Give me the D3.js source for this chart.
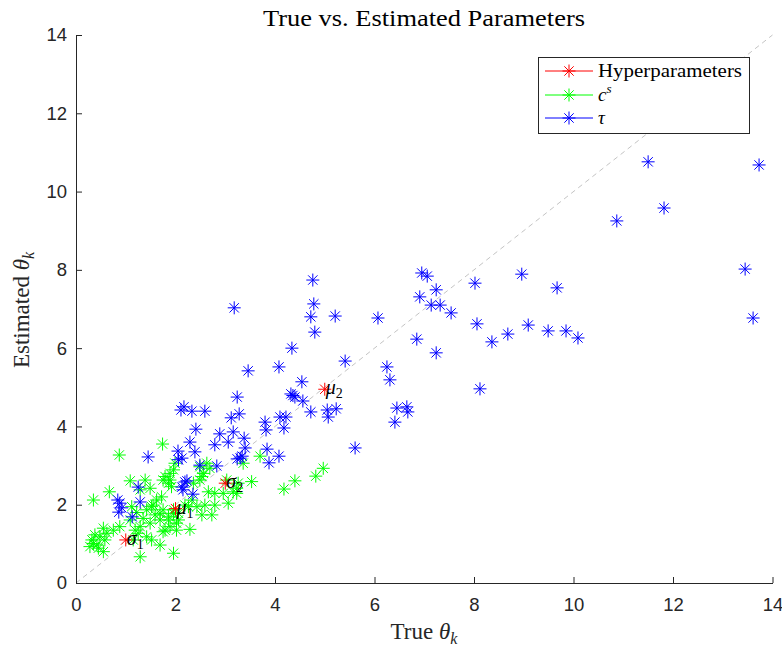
<!DOCTYPE html>
<html><head><meta charset="utf-8">
<script src="https://cdn.jsdelivr.net/npm/d3@7"></script>
<style>body{margin:0;background:#fff}svg{display:block}</style>
</head><body>
<svg id="chart" width="782" height="647"></svg>
<script>
// ---------- data ----------
const tauX = [13.73,11.50,11.82,10.87,13.45,13.61,8.96,9.67,9.09,9.49,9.85,10.09,8.02,8.06,8.68,8.36,8.12,6.95,7.06,7.24,
  6.91,7.14,7.32,7.54,6.85,7.24,6.07,6.25,6.31,6.45,6.65,6.67,6.41,5.61,5.41,5.21,4.76,4.78,4.72,4.80,
  4.34,4.54,3.18,4.08,3.46,4.32,4.40,4.56,4.72,5.05,5.23,5.07,4.10,4.22,3.82,4.18,3.80,3.24,3.12,3.28,
  2.59,2.33,2.17,2.11,2.41,2.29,2.39,2.89,3.16,3.38,3.06,2.79,3.40,3.84,4.08,3.88,3.30,3.24,3.34,2.83,
  2.49,2.13,2.05,2.06,1.45,2.23,2.13,2.15,2.35,1.25,1.29,0.84,0.88,0.92,0.86,1.13,4.36,2.19];
const tauY = [10.68,10.76,9.58,9.25,8.02,6.77,7.89,7.54,6.59,6.44,6.44,6.26,7.66,6.62,6.36,6.16,4.96,7.92,7.84,7.49,
  7.31,7.10,7.10,6.90,6.23,5.88,6.77,5.52,5.19,4.47,4.50,4.37,4.11,3.45,5.67,6.82,7.74,7.13,6.80,6.41,
  6.00,5.14,7.03,5.52,5.42,4.83,4.75,4.65,4.37,4.42,4.45,4.24,4.24,4.24,3.91,3.96,4.11,4.75,4.22,4.32,
  4.39,4.39,4.50,4.42,3.93,3.60,3.35,3.81,3.86,3.70,3.60,3.53,3.45,3.42,3.24,3.07,3.19,3.17,3.24,2.99,
  3.01,3.19,3.37,3.15,3.22,2.61,2.45,2.38,2.27,2.45,2.07,2.12,2.04,1.92,1.81,1.69,4.79,2.58];

const csX = [1.74,0.87,1.09,1.39,0.67,0.35,1.79,1.89,1.99,1.49,1.62,1.72,1.52,1.42,1.59,1.35,1.49,1.69,1.75,1.86,
  1.96,1.89,2.02,1.79,2.02,1.29,1.25,1.42,1.52,0.88,0.75,0.55,0.48,0.58,0.38,0.32,0.42,0.55,0.35,0.28,
  0.45,1.15,1.19,1.69,1.96,1.29,1.55,1.96,1.89,1.75,1.86,1.92,2.63,2.69,2.56,2.53,2.36,2.66,2.79,2.96,
  3.23,3.53,3.26,3.23,2.33,2.19,2.43,2.59,2.79,3.06,2.53,2.73,1.86,1.75,2.06,2.29,3.70,3.36,4.97,4.82,
  4.40,4.18,3.16,2.49,2.49,3.03,1.69,1.12,1.22,1.09,1.29,0.62,1.96,2.06,2.26];
const csY = [3.55,3.27,2.61,2.63,2.33,2.12,2.72,2.63,3.06,2.42,2.12,2.20,1.95,1.87,1.74,1.65,1.53,1.61,1.87,1.69,
  1.78,1.44,1.53,1.35,1.35,1.44,1.27,1.18,1.10,1.44,1.35,1.40,1.18,1.10,1.23,1.10,0.97,0.80,1.01,0.93,
  0.89,1.10,1.35,0.97,0.76,0.67,1.99,2.89,2.80,2.63,2.55,2.46,3.06,2.93,2.80,2.72,2.55,2.33,2.29,2.29,
  2.29,2.59,2.55,2.42,2.12,1.99,1.95,1.99,1.99,2.04,1.74,1.74,1.61,1.31,1.61,1.37,3.24,3.06,2.93,2.73,
  2.61,2.40,2.33,2.97,2.63,2.63,1.78,1.95,1.80,1.61,2.38,1.27,1.87,1.78,1.95];

const hypX = [1.0, 2.0, 3.0, 5.0];
const hypY = [1.1, 1.9, 2.55, 4.95];
const hypSym = ["σ", "μ", "σ", "μ"];
const hypSub = ["1", "1", "2", "2"];

const xTicks = [0, 2, 4, 6, 8, 10, 12, 14];
const yTicks = [0, 2, 4, 6, 8, 10, 12, 14];
const legendNames = ["Hyperparameters", "c", "τ"];
const seriesColors = ["#ff0000", "#00ff00", "#0000ff"];

// ---------- drawing ----------
const svg = d3.select("#chart");
svg.append("rect").attr("width", 782).attr("height", 647).attr("fill", "#fff");

const x = d3.scaleLinear().domain([0, 14]).range([76, 772.5]);
const y = d3.scaleLinear().domain([0, 14]).range([583, 35]);
const AX = "#262626";
const SERIF = "'Liberation Serif','Times New Roman',serif";
const SANS = "'Liberation Sans',Arial,Helvetica,sans-serif";

function starPath(r) {
  const d = r * 0.72;
  return `M${-r},0L${r},0M0,${-r}L0,${r}M${-d},${-d}L${d},${d}M${-d},${d}L${d},${-d}`;
}
const STAR = starPath(6.5);

// diagonal reference line
svg.append("line")
  .attr("x1", x(0)).attr("y1", y(0)).attr("x2", x(14)).attr("y2", y(14))
  .attr("stroke", "#c4c4c4").attr("stroke-width", 1).attr("stroke-dasharray", "5,4");

function drawSeries(xs, ys, color) {
  svg.append("g").selectAll("path").data(xs.map((v, i) => [v, ys[i]])).join("path")
    .attr("transform", d => `translate(${x(d[0])},${y(d[1])})`)
    .attr("d", STAR).attr("stroke", color).attr("stroke-width", 1).attr("fill", "none");
}
drawSeries(csX, csY, seriesColors[1]);
drawSeries(tauX, tauY, seriesColors[2]);
drawSeries(hypX, hypY, seriesColors[0]);

// hyperparameter labels
hypX.forEach((hx, i) => {
  const t = svg.append("text")
    .attr("x", x(hx) + 1).attr("y", y(hypY[i]) + 5)
    .attr("font-family", SERIF).attr("font-size", 20).attr("fill", "#000");
  t.append("tspan").attr("font-style", "italic").text(hypSym[i]);
  t.append("tspan").attr("font-size", 14).attr("dy", 4).text(hypSub[i]);
});

// axes
const xAxis = d3.axisBottom(x).tickValues(xTicks).tickSize(-6).tickSizeOuter(0).tickPadding(15);
const yAxis = d3.axisLeft(y).tickValues(yTicks).tickSize(-6).tickSizeOuter(0).tickPadding(9);
const gx = svg.append("g").attr("transform", "translate(0,583)").call(xAxis);
const gy = svg.append("g").attr("transform", "translate(76,0)").call(yAxis);
[gx, gy].forEach(g => {
  g.select(".domain").attr("stroke", AX).attr("stroke-width", 1);
  g.selectAll(".tick line").attr("stroke", AX).attr("stroke-width", 1);
  g.selectAll(".tick text").attr("fill", AX).attr("font-family", SANS).attr("font-size", 18.5);
});

// title
svg.append("text").attr("x", 424).attr("y", 26).attr("text-anchor", "middle")
  .attr("font-family", SERIF).attr("font-size", 23).attr("fill", "#000")
  .attr("textLength", 322).attr("lengthAdjust", "spacingAndGlyphs")
  .text("True vs. Estimated Parameters");

// x label
const xl = svg.append("text").attr("x", 424).attr("y", 639).attr("text-anchor", "middle")
  .attr("font-family", SERIF).attr("font-size", 23).attr("fill", AX);
xl.append("tspan").text("True ");
xl.append("tspan").attr("font-style", "italic").text("θ");
xl.append("tspan").attr("font-style", "italic").attr("font-size", 16).attr("dy", 5).text("k");

// y label
const yl = svg.append("text").attr("transform", "translate(29,310) rotate(-90)").attr("text-anchor", "middle")
  .attr("font-family", SERIF).attr("font-size", 23).attr("fill", AX);
yl.append("tspan").text("Estimated ");
yl.append("tspan").attr("font-style", "italic").text("θ");
yl.append("tspan").attr("font-style", "italic").attr("font-size", 16).attr("dy", 5).text("k");

// legend
const lg = svg.append("g");
lg.append("rect").attr("x", 538.5).attr("y", 57.5).attr("width", 211).attr("height", 76)
  .attr("fill", "#fff").attr("stroke", AX).attr("stroke-width", 1);
const rowsY = [71, 95, 118];
legendNames.forEach((name, i) => {
  const ry = rowsY[i];
  lg.append("line").attr("x1", 545).attr("x2", 593).attr("y1", ry).attr("y2", ry)
    .attr("stroke", seriesColors[i]).attr("stroke-width", 1);
  lg.append("path").attr("transform", `translate(569,${ry})`).attr("d", STAR)
    .attr("stroke", seriesColors[i]).attr("stroke-width", 1).attr("fill", "none");
  const t = lg.append("text").attr("x", 598).attr("y", ry + 6)
    .attr("font-family", SERIF).attr("font-size", 19).attr("fill", "#000");
  if (i === 0) {
    t.attr("textLength", 144).attr("lengthAdjust", "spacingAndGlyphs").text(name);
  } else if (i === 1) {
    t.append("tspan").attr("font-style", "italic").text(name);
    t.append("tspan").attr("font-style", "italic").attr("font-size", 13).attr("dy", -8).text("s");
  } else {
    t.append("tspan").attr("font-style", "italic").text(name);
  }
});
</script>
</body></html>
